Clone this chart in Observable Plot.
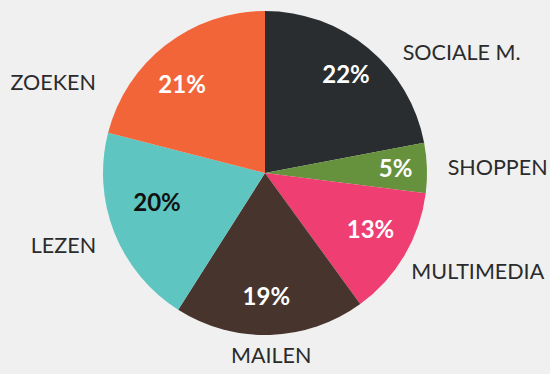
<!DOCTYPE html>
<html>
<head>
<meta charset="utf-8">
<script src="https://cdn.jsdelivr.net/npm/d3@7"></script>
<script src="https://cdn.jsdelivr.net/npm/@observablehq/plot@0.6"></script>
<style>
  html, body { margin: 0; padding: 0; background: #f0f0f0; }
  #chart svg { display: block; }
</style>
</head>
<body>
<div id="chart"></div>
<script>
// Time spent online, by activity (share in percent), clockwise from 12 o'clock
const categories = ["SOCIALE M.", "SHOPPEN", "MULTIMEDIA", "MAILEN", "LEZEN", "ZOEKEN"];
const shares = [22, 5, 13, 19, 20, 21];
const colors = ["#2a2d30", "#66913d", "#ee3e72", "#47352d", "#5ec5c1", "#f26539"];
const valueTextColors = ["#ffffff", "#ffffff", "#ffffff", "#ffffff", "#111111", "#ffffff"];

const W = 550, H = 374;
const cx = 265, cy = 173, R = 162; // pie centre and radius in pixels

// slice geometry from d3.pie, in unit-circle coordinates (radius 1)
const pie = d3.pie().sort(null).value(d => d.share);
const rows = categories.map((name, i) => ({name, share: shares[i], color: colors[i], textColor: valueTextColors[i]}));
const table = pie(rows).map(a => ({
  ...a.data,
  startAngle: a.startAngle,
  endAngle: a.endAngle,
  mid: (a.startAngle + a.endAngle) / 2
}));

// label placement: value inside each slice, name on a ring outside the pie,
// with hand-set pixel nudges where the default spot crowds its neighbours
const nameNudge = {"SOCIALE M.": [21, 20], "ZOEKEN": [-58, 54], "MULTIMEDIA": [-11, 6], "LEZEN": [0, 6]};
const valueNudge = {"SOCIALE M.": [2, -4], "ZOEKEN": [-8, 8], "SHOPPEN": [7, -1], "MULTIMEDIA": [-1, -7], "MAILEN": [-3, 0], "LEZEN": [6, -17]};
const outer = 1.125;
const inner = 0.76;
table.forEach(d => {
  const s = Math.sin(d.mid), c = Math.cos(d.mid);
  const [vx, vy] = valueNudge[d.name] || [0, 0];
  d.vx = inner * s + vx / R;
  d.vy = inner * c - vy / R;
  const [nx, ny] = nameNudge[d.name] || [0, 0];
  d.lx = outer * s + nx / R;
  d.ly = outer * c - ny / R;
  d.side = Math.abs(s) < 0.2 ? "middle" : (s > 0 ? "start" : "end");
});

// pie slices drawn with d3.arc through the plot's x and y scales
function slices(index, scales) {
  const x0 = scales.x(0), y0 = scales.y(0);
  const r = scales.x(1) - x0;
  const arc = d3.arc().innerRadius(0).outerRadius(r);
  const g = d3.create("svg:g").attr("transform", `translate(${x0},${y0})`);
  g.selectAll("path")
    .data(table)
    .join("path")
    .attr("d", d => arc({startAngle: d.startAngle, endAngle: d.endAngle}))
    .attr("fill", d => d.color);
  return g.node();
}

const nameLabels = anchor => Plot.text(table.filter(d => d.side === anchor), {
  x: "lx", y: "ly",
  text: "name",
  textAnchor: anchor,
  fill: "#2b2b2b",
  fontSize: 21.5
});

const chart = Plot.plot({
  width: W,
  height: H,
  margin: 0,
  style: {background: "#f0f0f0", fontFamily: "Lato, sans-serif"},
  x: {domain: [-cx / R, (W - cx) / R], range: [0, W], axis: null},
  y: {domain: [-(H - cy) / R, cy / R], range: [H, 0], axis: null},
  marks: [
    slices,
    Plot.text(table, {
      x: "vx", y: "vy",
      text: d => d.share + "%",
      fill: "textColor",
      fontSize: 24,
      fontWeight: "bold",
      dy: 1
    }),
    nameLabels("start"),
    nameLabels("middle"),
    nameLabels("end")
  ]
});

document.getElementById("chart").append(chart);
</script>
</body>
</html>
